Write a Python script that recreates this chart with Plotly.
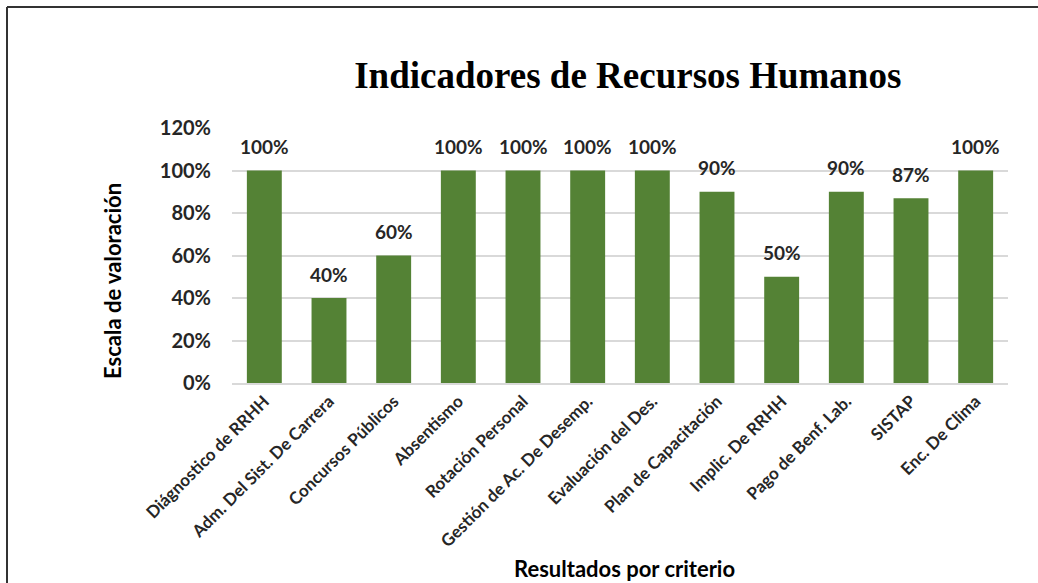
import plotly.graph_objects as go

categories = ["Diágnostico de RRHH", "Adm. Del Sist. De Carrera", "Concursos Públicos",
              "Absentismo", "Rotación Personal", "Gestión de Ac. De Desemp.",
              "Evaluación del Des.", "Plan de Capacitación", "Implic. De RRHH",
              "Pago de Benf. Lab.", "SISTAP", "Enc. De Clima"]
values = [1.00, 0.40, 0.60, 1.00, 1.00, 1.00, 1.00, 0.90, 0.50, 0.90, 0.87, 1.00]
labels = ["100%", "40%", "60%", "100%", "100%", "100%", "100%", "90%", "50%", "90%", "87%", "100%"]
y_ticks = [0, 0.2, 0.4, 0.6, 0.8, 1.0, 1.2]
y_ticktext = ["0%", "20%", "40%", "60%", "80%", "100%", "120%"]

FONT = "Lato"
fig = go.Figure()
fig.add_trace(go.Bar(
    x=categories, y=values,
    marker=dict(color="#548235", line=dict(width=0)),
    showlegend=False, hoverinfo="x+y",
))

data_labels = [
    dict(x=c, y=v, text=f"<b>{t}</b>", xref="x", yref="y", showarrow=False,
         yanchor="middle", xanchor="center", yshift=24,
         font=dict(family=FONT, size=19, color="#262626"))
    for c, v, t in zip(categories, values, labels)
]

fig.update_layout(
    width=1038, height=583,
    margin=dict(l=232, r=30, t=128, b=200, autoexpand=False),
    paper_bgcolor="white", plot_bgcolor="white",
    bargap=0.46,
    title=dict(text="<b>Indicadores de Recursos Humanos</b>",
               font=dict(family="Liberation Serif", size=37, color="black"),
               x=0.51, xref="paper", xanchor="center",
               y=1 - 75 / 583, yref="container", yanchor="middle"),
    xaxis=dict(tickangle=-45, tickfont=dict(family=FONT, size=17, color="#262626", weight="bold"),
               showline=True, linecolor="#d9d9d9", linewidth=1.5, ticks="", showgrid=False,
               automargin=False),
    yaxis=dict(range=[0, 1.2], tickvals=y_ticks, ticktext=y_ticktext,
               tickfont=dict(family=FONT, size=20, color="#262626", weight="bold"),
               showgrid=True, gridcolor="#d9d9d9", gridwidth=1.5, zeroline=False,
               ticks="", ticklabelstandoff=20, automargin=False),
    annotations=data_labels + [
        dict(text="<b>Resultados por criterio</b>", xref="paper", yref="paper",
             x=(624 - 232) / 776, y=(383 - 568) / 255, xanchor="center", yanchor="middle",
             showarrow=False, font=dict(family=FONT, size=22, color="black")),
        dict(text="<b>Escala de valoración</b>", xref="paper", yref="paper",
             x=(112 - 232) / 776, y=(383 - 281) / 255, xanchor="center", yanchor="middle",
             textangle=-90, showarrow=False, font=dict(family=FONT, size=22, color="black")),
    ],
    shapes=[
        dict(type="line", xref="paper", yref="paper", x0=(7 - 232) / 776, x1=(1040 - 232) / 776,
             y0=1 + (128 - 7) / 255, y1=1 + (128 - 7) / 255, line=dict(color="#333333", width=2)),
        dict(type="line", xref="paper", yref="paper", x0=(7 - 232) / 776, x1=(7 - 232) / 776,
             y0=1 + (128 - 7) / 255, y1=(383 - 590) / 255, line=dict(color="#333333", width=2)),
    ],
)

fig.write_html("out.html", config={"displayModeBar": False},
               post_script="document.body.style.margin='0';")
